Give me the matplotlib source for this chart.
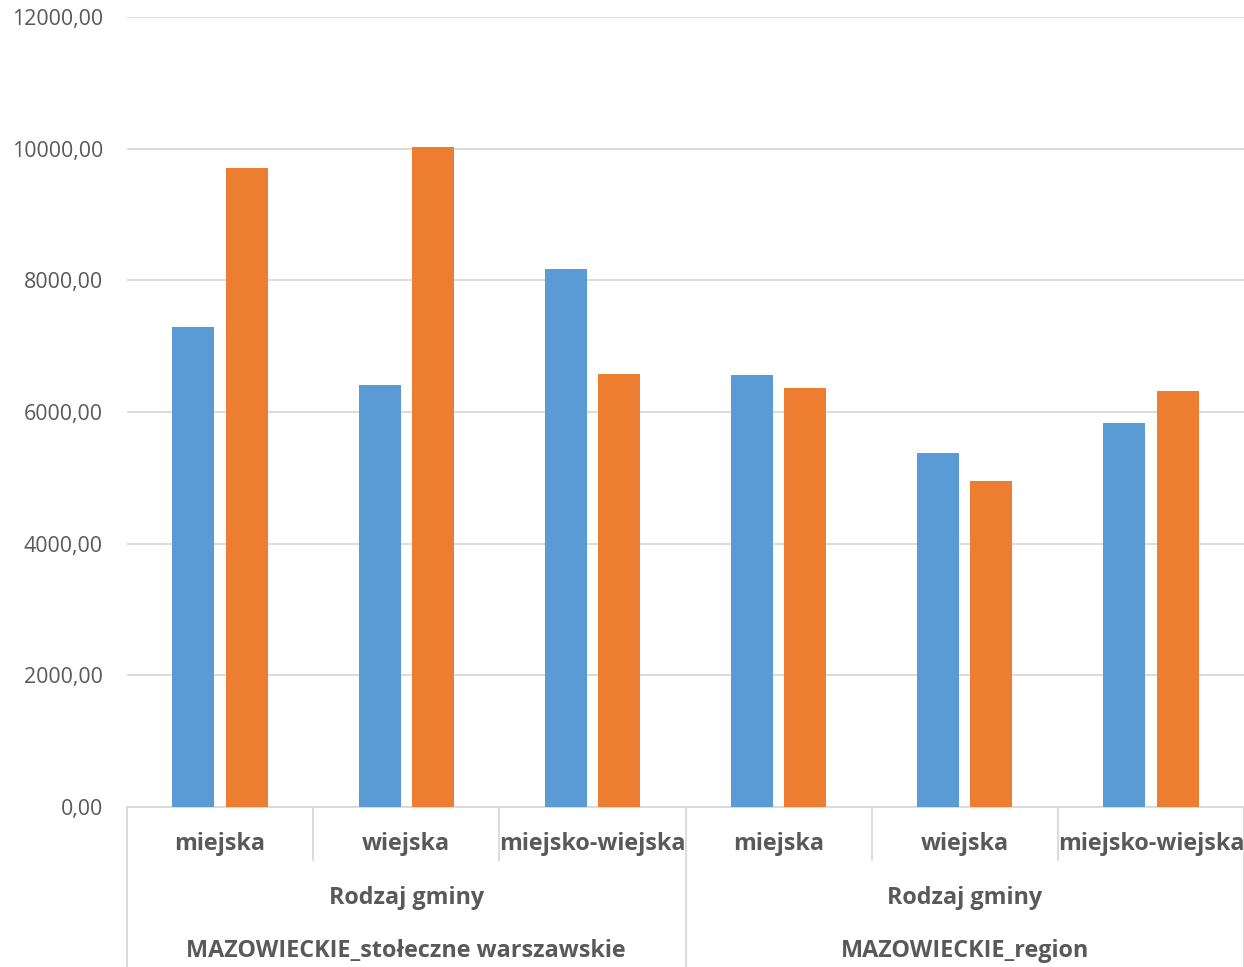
import matplotlib
matplotlib.use("Agg")
import matplotlib.pyplot as plt
import matplotlib.transforms as mtransforms
import numpy as np

plt.rcParams['font.family'] = ['Open Sans', 'DejaVu Sans']

categories = ["miejska", "wiejska", "miejsko-wiejska", "miejska", "wiejska", "miejsko-wiejska"]
level2 = ["Rodzaj gminy", "Rodzaj gminy"]
level3 = ["MAZOWIECKIE_stołeczne warszawskie", "MAZOWIECKIE_region"]
series_blue = [7290, 6410, 8170, 6560, 5380, 5830]
series_orange = [9710, 10030, 6580, 6370, 4950, 6320]
yticks = [0, 2000, 4000, 6000, 8000, 10000, 12000]
ytick_labels = ["0,00", "2000,00", "4000,00", "6000,00", "8000,00", "10000,00", "12000,00"]

W, H = 1244, 967
fig = plt.figure(figsize=(W / 100, H / 100), dpi=100)
ax = fig.add_axes([127 / W, 1 - 807 / H, 1 - 127 / W, (807 - 17) / H])

text_color = "#595959"
grid_color = "#D9D9D9"
blue = "#5B9BD5"
orange = "#ED7D31"

n = len(categories)
x = np.arange(n) + 0.5
bw = 0.226
off = 0.143
ax.bar(x - off, series_blue, width=bw, color=blue, zorder=3)
ax.bar(x + off, series_orange, width=bw, color=orange, zorder=3)

ax.set_xlim(0, n)
ax.set_ylim(0, 12000)
ax.set_yticks(yticks)
ax.set_yticklabels(ytick_labels)
ax.tick_params(axis='y', length=0, pad=17.3, labelsize=15.4, labelcolor=text_color)
ax.set_xticks([])
ax.grid(axis='y', color=grid_color, linewidth=1.3, zorder=0)
for s in ['top', 'right', 'left']:
    ax.spines[s].set_visible(False)
ax.spines['bottom'].set_color(grid_color)
ax.spines['bottom'].set_linewidth(1.3)

trans = mtransforms.blended_transform_factory(ax.transData, ax.transAxes)
axh = 790.0
def yfrac(py):
    return -(py - 807) / axh

# category labels
for i, c in enumerate(categories):
    ax.text(i + 0.5, yfrac(844), c, transform=trans, ha='center', va='center',
            fontsize=16.8, fontweight='bold', color=text_color)
# short separators
for i in [1, 2, 4, 5]:
    ax.plot([i, i], [0, yfrac(860)], transform=trans, color=grid_color, lw=1.3, clip_on=False)
# long separators
for i in [0, 3, 6]:
    xx = i if i < 6 else 5.998
    ax.plot([xx, xx], [0, yfrac(967)], transform=trans, color=grid_color, lw=1.3, clip_on=False)
# group labels
for g in range(2):
    cx = g * 3 + 1.5
    ax.text(cx, yfrac(898), level2[g], transform=trans, ha='center', va='center',
            fontsize=16.8, fontweight='bold', color=text_color)
    ax.text(cx, yfrac(951), level3[g], transform=trans, ha='center', va='center',
            fontsize=16.8, fontweight='bold', color=text_color)

fig.savefig("out.png", dpi=100)
